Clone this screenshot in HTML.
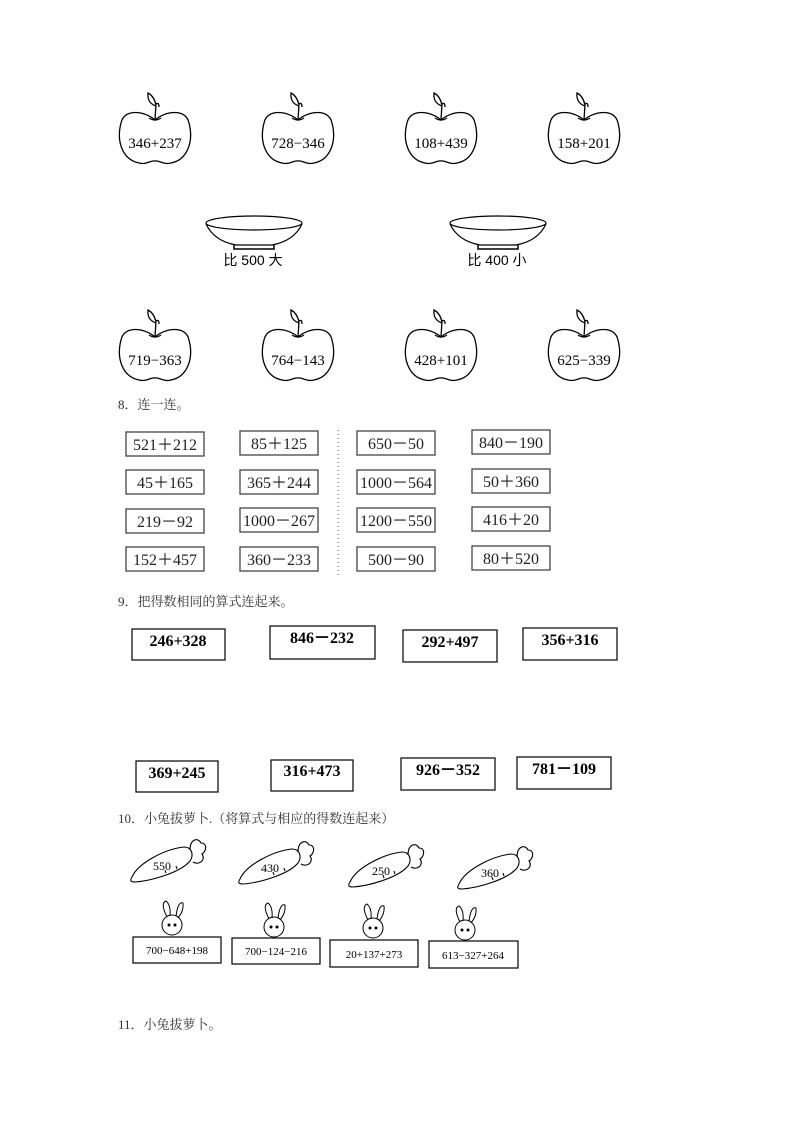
<!DOCTYPE html>
<html><head><meta charset="utf-8"><style>
body{margin:0;background:#fff;}
svg{display:block}
</style></head><body>
<svg width="793" height="1122" viewBox="0 0 793 1122" xmlns="http://www.w3.org/2000/svg">
<defs>
<g id="apple" fill="none" stroke="#000" stroke-width="1.3">
<path d="M0,10 C-10,1 -31,-2 -34,13 C-39,32 -32,50 -16,53 C-8,55 -4,50 0,51 C4,50 8,55 16,53 C32,50 39,32 34,13 C31,-2 10,1 0,10 Z"/>
<path d="M-6,8 Q0,12 6,8"/>
<path d="M0,10 L1,-6 M1,-4 Q-8,-7 -7,-17 Q-1,-14 1,-5 M1,-6 Q4,-8 4,-3"/>
</g>
<g id="plate" fill="none" stroke="#000" stroke-width="1.2">
<ellipse cx="0" cy="0" rx="48" ry="7"/>
<path d="M-48,1 Q-40,18 -18,22 L18,22 Q40,18 48,1"/>
<path d="M-20,22 L-20,26 L20,26 L20,22" stroke-width="1.5"/>
</g>
<g id="carrot" fill="none" stroke="#000" stroke-width="1.1">
<path d="M-38,22 C-32,8 -5,-6 14,-8 C22,-8 24,0 20,6 C10,18 -20,26 -35,27 C-40,27 -40,25 -38,22 Z"/>
<path d="M20,-5 C20,-16 28,-18 31,-12 C38,-12 36,-3 32,-1 C36,4 30,11 23,7"/>
<path d="M-5,15 l1,3 M6,11 l1,3"/>
</g>
<g id="rab" fill="none" stroke="#000" stroke-width="1">
<circle cx="0" cy="0" r="10"/>
<path d="M-5,-8 Q-12,-22 -6,-24 Q-1,-20 -2,-9 M4,-9 Q6,-24 11,-22 Q12,-14 6,-7"/>
<circle cx="-3" cy="0" r="1" fill="#000"/><circle cx="3" cy="0" r="1" fill="#000"/>
</g>
</defs>
<g font-family="Liberation Serif, serif" font-size="15" text-anchor="middle">
<use href="#apple" x="155" y="110"/><text x="155" y="148">346+237</text>
<use href="#apple" x="298" y="110"/><text x="298" y="148">728−346</text>
<use href="#apple" x="441" y="110"/><text x="441" y="148">108+439</text>
<use href="#apple" x="584" y="110"/><text x="584" y="148">158+201</text>
<use href="#apple" x="155" y="327"/><text x="155" y="365">719−363</text>
<use href="#apple" x="298" y="327"/><text x="298" y="365">764−143</text>
<use href="#apple" x="441" y="327"/><text x="441" y="365">428+101</text>
<use href="#apple" x="584" y="327"/><text x="584" y="365">625−339</text>
</g>
<use href="#plate" x="254" y="223"/>
<use href="#plate" x="498" y="223"/>
<g font-family="Liberation Sans, 'Noto Sans CJK SC', sans-serif" font-size="14" text-anchor="middle">
<text x="253" y="265">比 500 大</text>
<text x="497" y="265">比 400 小</text>
</g>
<g font-family="Liberation Serif, 'Noto Serif CJK SC', serif" font-size="13" fill="#333">
<text x="118" y="409">8．连一连。</text>
<text x="118" y="606">9．把得数相同的算式连起来。</text>
<text x="118" y="823">10．小兔拔萝卜.（将算式与相应的得数连起来）</text>
<text x="118" y="1029">11．小兔拔萝卜。</text>
</g>
<g fill="none" stroke="#444" stroke-width="1.3">
<rect x="126" y="432" width="78" height="24"/><rect x="240" y="431" width="78" height="24"/><rect x="357" y="431" width="78" height="24"/><rect x="472" y="430" width="78" height="24"/>
<rect x="126" y="470" width="78" height="24"/><rect x="240" y="470" width="78" height="24"/><rect x="357" y="470" width="78" height="24"/><rect x="472" y="469" width="78" height="24"/>
<rect x="126" y="509" width="78" height="24"/><rect x="240" y="508" width="78" height="24"/><rect x="357" y="508" width="78" height="24"/><rect x="472" y="507" width="78" height="24"/>
<rect x="126" y="547" width="78" height="24"/><rect x="240" y="547" width="78" height="24"/><rect x="357" y="547" width="78" height="24"/><rect x="472" y="546" width="78" height="24"/>
<line x1="338" y1="430" x2="338" y2="575" stroke-dasharray="1,3" stroke="#888"/>
</g>
<g font-family="Liberation Serif, serif" font-size="16" text-anchor="middle" fill="#222">
<text x="165" y="450">521＋212</text><text x="279" y="449">85＋125</text><text x="396" y="449">650－50</text><text x="511" y="448">840－190</text>
<text x="165" y="488">45＋165</text><text x="279" y="488">365＋244</text><text x="396" y="488">1000－564</text><text x="511" y="487">50＋360</text>
<text x="165" y="527">219－92</text><text x="279" y="526">1000－267</text><text x="396" y="526">1200－550</text><text x="511" y="525">416＋20</text>
<text x="165" y="565">152＋457</text><text x="279" y="565">360－233</text><text x="396" y="565">500－90</text><text x="511" y="564">80＋520</text>
</g>
<g fill="none" stroke="#000" stroke-width="1.2">
<rect x="132" y="629" width="93" height="31"/><rect x="270" y="626" width="105" height="33"/><rect x="403" y="630" width="94" height="32"/><rect x="523" y="628" width="94" height="32"/>
<rect x="136" y="761" width="82" height="31"/><rect x="271" y="760" width="82" height="31"/><rect x="401" y="758" width="94" height="32"/><rect x="517" y="757" width="94" height="32"/>
</g>
<g font-family="Liberation Serif, serif" font-size="16" font-weight="bold" text-anchor="middle">
<text x="178" y="646">246+328</text><text x="322" y="643">846－232</text><text x="450" y="647">292+497</text><text x="570" y="645">356+316</text>
<text x="177" y="778">369+245</text><text x="312" y="776">316+473</text><text x="448" y="775">926－352</text><text x="564" y="774">781－109</text>
</g>
<use href="#carrot" x="170" y="855"/>
<use href="#carrot" x="278" y="857"/>
<use href="#carrot" x="388" y="860"/>
<use href="#carrot" x="497" y="862"/>
<g font-family="Liberation Serif, serif" font-size="12" text-anchor="middle">
<text x="162" y="870">550</text><text x="270" y="872">430</text><text x="381" y="875">250</text><text x="490" y="877">360</text>
</g>
<use href="#rab" x="172" y="925"/>
<use href="#rab" x="274" y="927"/>
<use href="#rab" x="373" y="928"/>
<use href="#rab" x="465" y="930"/>
<g fill="#fff" stroke="#000" stroke-width="1.2">
<rect x="133" y="937" width="88" height="26"/><rect x="232" y="938" width="88" height="26"/><rect x="330" y="940" width="88" height="27"/><rect x="429" y="941" width="89" height="27"/>
</g>
<g font-family="Liberation Serif, serif" font-size="11" text-anchor="middle">
<text x="177" y="954">700−648+198</text><text x="276" y="955">700−124−216</text><text x="374" y="958">20+137+273</text><text x="473" y="959">613−327+264</text>
</g>
</svg>
</body></html>
